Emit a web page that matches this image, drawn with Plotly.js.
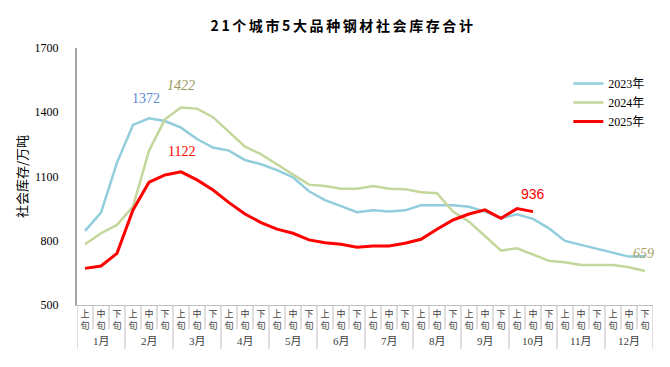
<!DOCTYPE html>
<html>
<head>
<meta charset="utf-8">
<script src="https://cdn.plot.ly/plotly-3.0.1.min.js"></script>
<style>html,body{margin:0;padding:0;background:#fff;}#chart{width:670px;height:367px;}
#chart .gtitle{letter-spacing:2.6px;}</style>
</head>
<body>
<div id="chart"></div>
<script>
var months = ["1月","2月","3月","4月","5月","6月","7月","8月","9月","10月","11月","12月"];
var dekads = ["上<br>旬","中<br>旬","下<br>旬"];
var seriesNames = ["2023年","2024年","2025年"];
var y2023 = [846, 931, 1165, 1341, 1372, 1359, 1328, 1275, 1235, 1221, 1177, 1157, 1130, 1096, 1031, 990, 962, 933, 942, 936, 942, 966, 966, 966, 959, 936, 905, 924, 902, 858, 799, 780, 762, 743, 726, 728];
var y2024 = [784, 835, 874, 959, 1221, 1367, 1422, 1417, 1377, 1309, 1239, 1204, 1157, 1110, 1062, 1056, 1043, 1043, 1056, 1043, 1041, 1026, 1022, 936, 889, 822, 754, 765, 734, 706, 700, 687, 687, 687, 676, 659];
var y2025 = [671, 682, 741, 944, 1073, 1107, 1122, 1084, 1037, 978, 925, 885, 854, 835, 804, 791, 784, 770, 776, 776, 788, 807, 854, 897, 925, 944, 905, 950, 936];

var colors = ["#92cddc", "#c3d69b", "#ff0000"];
var serif = "Liberation Serif, DejaVu Serif, Noto Sans CJK SC, serif";
var cjk = "Noto Sans CJK SC, sans-serif";

function idx(arr){ return arr.map(function(_, i){ return i; }); }

var tickvals = [], ticktext = [];
months.forEach(function(m, mi){
  dekads.forEach(function(d, di){ tickvals.push(mi*3+di); ticktext.push(d); });
});

var traces = [y2023, y2024, y2025].map(function(arr, k){
  return {
    x: idx(arr), y: arr, type: "scatter", mode: "lines", name: seriesNames[k],
    line: {color: colors[k], width: k === 2 ? 3 : 2.5},
    hoverinfo: "skip"
  };
});

var shapes = [];
var nCat = months.length * dekads.length;
for (var i = 0; i <= nCat; i++) {
  var isMonth = (i % 3 === 0);
  shapes.push({type: "line", xref: "x", yref: "paper", x0: i - 0.5, x1: i - 0.5,
    y0: 0, y1: isMonth ? -0.171 : -0.093,
    line: {color: "#bfbfbf", width: 1}});
}

var annotations = months.map(function(m, mi){
  return {x: mi*3 + 1, y: -0.14, xref: "x", yref: "paper", text: m, showarrow: false,
    yanchor: "middle", font: {family: serif, size: 11, color: "#404040"}};
});

function pointLabel(arr, i, color, italic, family, xs){
  return {x: i, y: arr[i], xref: "x", yref: "y", text: (italic ? "<i>" : "") + arr[i] + (italic ? "</i>" : ""),
    showarrow: false, yshift: 20, xshift: xs || 0,
    font: {family: family, size: 14, color: color}};
}
var a1372 = pointLabel(y2023, y2023.indexOf(Math.max.apply(null, y2023)), "#5b8bd0", false, serif, -3);
annotations.push(a1372);
var a1422 = pointLabel(y2024, y2024.indexOf(Math.max.apply(null, y2024)), "#9a9a5a", true, serif, 0);
a1422.yshift = 22;
annotations.push(a1422);
annotations.push(pointLabel(y2025, y2025.indexOf(Math.max.apply(null, y2025)), "#ff0000", false, serif, 0));
var a936 = pointLabel(y2025, y2025.length - 1, "#ff0000", false, "Liberation Sans, Arial, sans-serif", 0);
a936.yshift = 18;
annotations.push(a936);
var a659 = pointLabel(y2024, y2024.length - 1, "#a8a068", true, serif, -2);
a659.yshift = 17;
annotations.push(a659);

var layout = {
  width: 670, height: 367,
  margin: {l: 77, r: 17, t: 48, b: 62},
  paper_bgcolor: "#fff", plot_bgcolor: "#fff",
  title: {text: "<b>21个城市5大品种钢材社会库存合计</b>", x: 0.512, xanchor: "center", y: 0.93, yanchor: "middle",
    font: {family: cjk, size: 14, color: "#000"}},
  showlegend: true,
  legend: {x: 0.853, y: 0.918, xanchor: "left", yanchor: "top", bgcolor: "rgba(0,0,0,0)",
    font: {family: serif, size: 12, color: "#000"}, tracegroupgap: 0, itemwidth: 30},
  xaxis: {range: [-0.5, nCat - 0.5], tickmode: "array", tickvals: tickvals, ticktext: ticktext,
    tickangle: 0, ticks: "", showgrid: false, zeroline: false, showline: true, linecolor: "#bfbfbf", linewidth: 1,
    tickfont: {family: cjk, size: 9, color: "#404040"}, ticklabelstandoff: 0, fixedrange: true},
  yaxis: {range: [500, 1700], tickmode: "array", tickvals: [500, 800, 1100, 1400, 1700],
    ticks: "", showgrid: false, zeroline: false, showline: true, linecolor: "#a6a6a6", linewidth: 2,
    tickfont: {family: serif, size: 12, color: "#000"}, ticklabelstandoff: 14,
    title: {text: "社会库存/万吨", font: {family: cjk, size: 13, color: "#000"}, standoff: 4}},
  shapes: shapes,
  annotations: annotations
};

Plotly.newPlot("chart", traces, layout, {displayModeBar: false, staticPlot: true});
</script>
</body>
</html>
